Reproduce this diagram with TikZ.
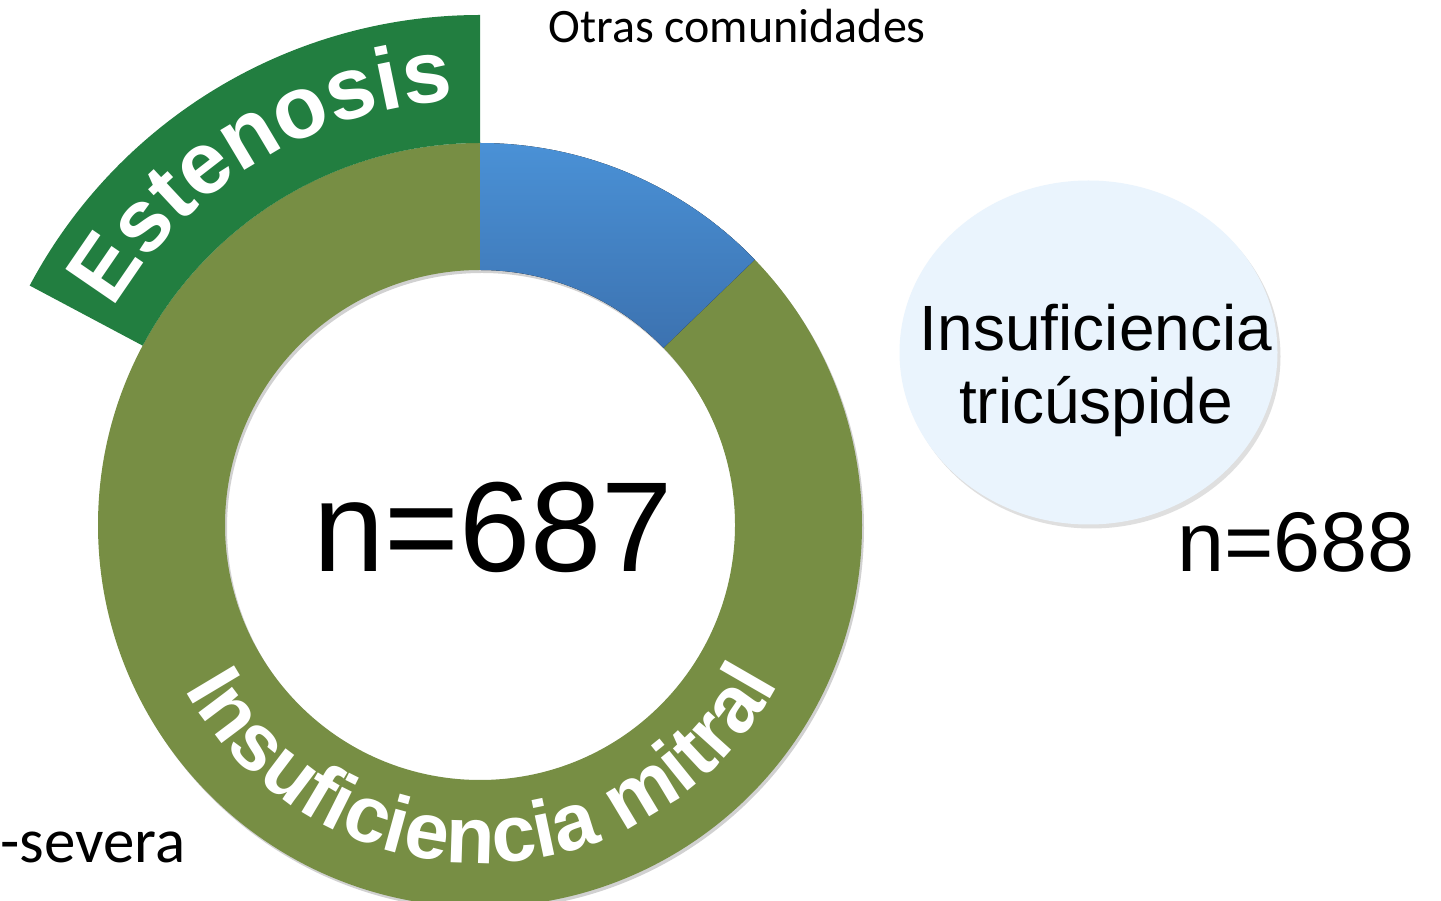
\documentclass[tikz,border=0pt]{standalone}
\usepackage{fontspec}
\setmainfont{Liberation Sans}
\newfontfamily\calfont{Carlito}
\usetikzlibrary{decorations.text,shapes.geometric,shadows}

\definecolor{estgreen}{RGB}{34,126,64}
\definecolor{mitgreen}{RGB}{119,142,68}
\definecolor{bluetop}{RGB}{74,145,214}
\definecolor{bluebot}{RGB}{60,114,176}
\definecolor{tricfill}{RGB}{234,244,253}

\newcommand{\estfont}{\bfseries\fontsize{44}{44}\selectfont}
\newcommand{\mitfont}{\bfseries\fontsize{40}{40}\selectfont}

\newcommand{\ringpart}[5]{
\fill[#1]
(#2:#5) arc[start angle=#2, end angle=#3, radius=#5] --
(#3:#4) arc[start angle=#3, end angle=#2, radius=#4] -- cycle;
}

\tikzset{
ringlabel/.style={decorate, decoration={text along path, text align=center,
  text color=white, text={#1}}},
bignum/.style={inner sep=0, anchor=base, font=\fontsize{64}{64}\selectfont},
midnum/.style={inner sep=0, anchor=base east, font=\fontsize{42.3}{42.3}\selectfont},
caltext/.style={inner sep=0, font=\calfont\fontsize{#1}{#1}\selectfont},
tricshape/.style={ellipse, fill=tricfill, minimum width=189pt, minimum height=172pt,
  inner sep=0, drop shadow={shadow xshift=1.5pt, shadow yshift=-2pt, opacity=0.25}},
trictext/.style={inner sep=0, align=center, font=\fontsize{32}{36.5}\selectfont}
}

\begin{document}
\begin{tikzpicture}[x=0.5pt, y=0.5pt]
\fill[white] (0,0) rectangle (1441,900);
\useasboundingbox (0,0) rectangle (1441,900);

\begin{scope}[shift={(480,375)}]
\ringpart{black, opacity=0.18, shift={(2,-3)}}{0}{360}{255}{382}
\ringpart{mitgreen}{90}{404}{255}{382}
\ringpart{top color=bluetop, bottom color=bluebot}{44}{90}{255}{382}
\ringpart{estgreen}{90}{152}{382}{510}

\path[ringlabel={|\estfont|Estenosis}]
(150:425) arc[start angle=150, end angle=93, radius=425];
\path[ringlabel={|\mitfont|Insuficiencia mitral}]
(200:338) arc[start angle=200, end angle=341, radius=338];
\end{scope}

\node[bignum] (n687) at (493,328) {n=687};
\node[tricshape] (tric) at (1088.5,547.5) {};
\node[trictext] (trictxt) at (1096,530) {Insuficiencia\\tricúspide};
\node[midnum] (n688) at (1415,328) {n=688};
\node[caltext=24, anchor=base west] (otras) at (548,857) {Otras comunidades};
\node[caltext=31.5, anchor=base east] (severa) at (186,38) {-severa};

\end{tikzpicture}
\end{document}
